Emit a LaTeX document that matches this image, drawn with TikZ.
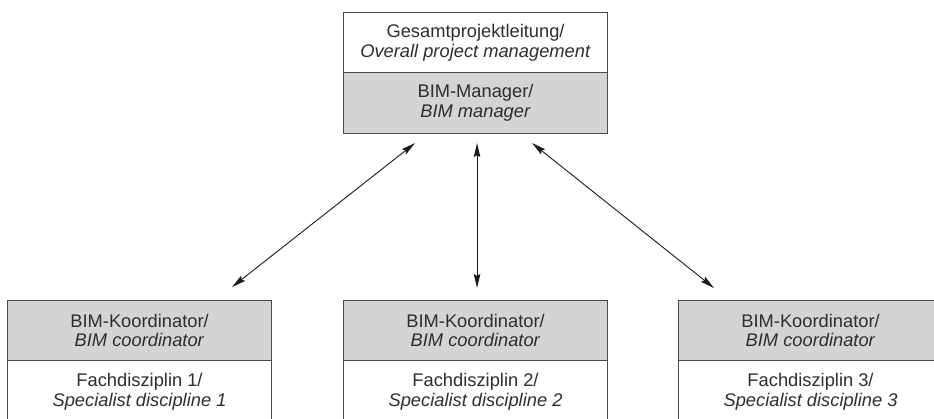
\documentclass[tikz,border=0pt]{standalone}
\usepackage{fontspec}
\setmainfont{Liberation Sans}
\usetikzlibrary{arrows.meta,calc}
\definecolor{boxgray}{HTML}{D4D4D4}
\definecolor{linegray}{HTML}{4A4A4A}
\definecolor{txtgray}{HTML}{2E2E2E}
\tikzset{
  cell/.style={draw=linegray, line width=1.1pt, rectangle, inner sep=0pt,
    minimum width=264pt, minimum height=60pt, anchor=north west,
    align=center, text=txtgray, font=\fontsize{18.3}{19.7}\selectfont},
  grayCell/.style={cell, fill=boxgray},
  whiteCell/.style={cell, fill=white},
  arr/.style={draw=black!90, line width=0.9pt,
    {Stealth[length=14pt,width=6.5pt,inset=2pt]}-{Stealth[length=14pt,width=6.5pt,inset=2pt]}}
}
\begin{document}
\begin{tikzpicture}[x=1pt,y=-1pt]
\useasboundingbox (0,0) rectangle (934,419);
% top box
\node[whiteCell] (gpl) at (343,12) {Gesamtprojektleitung/\\\textit{Overall project management}};
\node[grayCell, minimum height=61pt] (mgr) at (343,72) {BIM-Manager/\\\textit{BIM manager}};
% bottom boxes
\node[grayCell] (c1) at (7,300) {BIM-Koordinator/\\\textit{BIM coordinator}};
\node[whiteCell, minimum height=62pt] (f1) at (7,360) {Fachdisziplin 1/\\\textit{Specialist discipline 1}};
\node[grayCell] (c2) at (343,300) {BIM-Koordinator/\\\textit{BIM coordinator}};
\node[whiteCell, minimum height=62pt] (f2) at (343,360) {Fachdisziplin 2/\\\textit{Specialist discipline 2}};
\node[grayCell] (c3) at (678,300) {BIM-Koordinator/\\\textit{BIM coordinator}};
\node[whiteCell, minimum height=62pt] (f3) at (678,360) {Fachdisziplin 3/\\\textit{Specialist discipline 3}};
% connectors
\draw[arr] ([xshift=72pt,yshift=-9pt]mgr.south west) -- ([xshift=-40pt,yshift=13pt]c1.north east);
\draw[arr] ([xshift=1.5pt,yshift=-9pt]mgr.south) -- ([xshift=1.5pt,yshift=12pt]c2.north);
\draw[arr] ([xshift=-76pt,yshift=-9pt]mgr.south east) -- ([xshift=36pt,yshift=12pt]c3.north west);
\end{tikzpicture}
\end{document}
